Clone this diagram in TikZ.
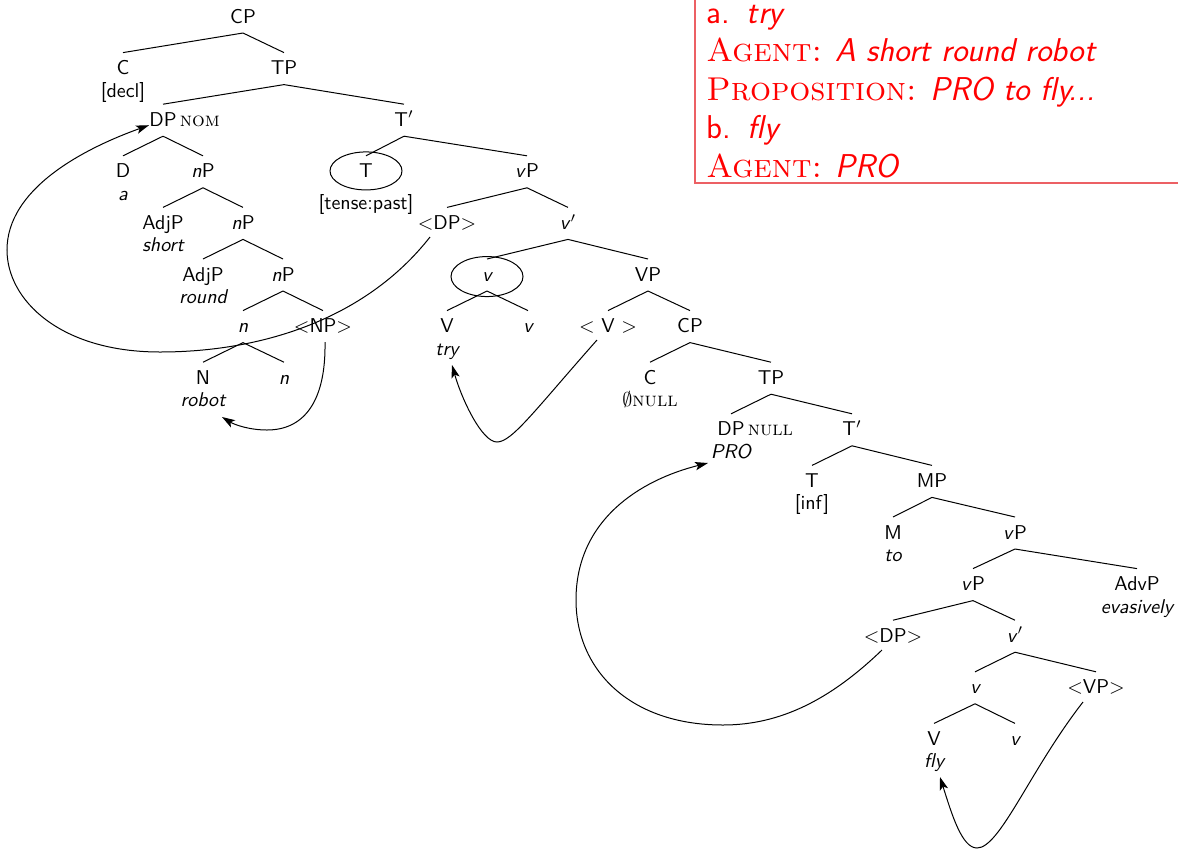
\documentclass[tikz,border=0pt]{standalone}
\usetikzlibrary{calc,arrows.meta,shapes.geometric}
\definecolor{boxred}{RGB}{236,96,100}
\newcommand\tbr[2]{\draw[brl] ($(#1.base)+(0,10)$) -- ($(#2.base)+(0,-22)$);}
\begin{document}
\begin{tikzpicture}[x=0.5pt,y=-0.5pt,
  tn/.style={anchor=base,inner sep=0pt,font=\sffamily\fontsize{10}{12}\selectfont},
  circ/.style={tn,draw,ellipse,minimum width=36pt,inner sep=0pt,line width=0.5pt},
  brl/.style={line width=0.5pt},
  mv/.style={line width=0.5pt,-{Stealth[length=6.5pt,width=4.2pt,inset=1.5pt]}},
  rt/.style={anchor=base west,inner sep=0pt,text=red,font=\sffamily\fontsize{16.5}{19}\selectfont}]
\useasboundingbox (0,0) rectangle (1178,852);

% ---------- tree nodes ----------
\node[tn] (cp0) at (243,23) {CP};
\node[tn] (c1) at (123,74.6) {C};
\node[tn] (decl) at (123,97.1) {[decl]};
\node[tn] (tp1) at (284,74.6) {TP};
\node[tn] (dp2) at (163,126.2) {DP\rlap{\,\rmfamily\scshape nom}};
\node[tn] (tb2) at (404,126.2) {T$'$};
\node[tn] (d3) at (123,177.8) {D};
\node[tn] (a3) at (123,200.3) {\itshape a};
\node[tn] (np3) at (203,177.8) {\textit{n}P};
\node[circ,minimum height=19pt] (t3) at (366,177.8) {T};
\node[tn] (tense) at (366,209) {[tense:past]};
\node[tn] (vp3) at (527,177.8) {\textit{v}P};
\node[tn] (adj4) at (163,229.4) {AdjP};
\node[tn] (short) at (163,251.9) {\itshape short};
\node[tn] (np4) at (243,229.4) {\textit{n}P};
\node[tn] (ldp4) at (447,229.4) {$<$DP$>$};
\node[tn] (vb4) at (568,229.4) {\textit{v}$'$};
\node[tn] (adj5) at (203,281) {AdjP};
\node[tn] (round) at (203,303.5) {\itshape round};
\node[tn] (np5) at (283,281) {\textit{n}P};
\node[circ,minimum height=20pt] (v5) at (487,281) {\itshape v};
\node[tn] (vp5) at (648,281) {VP};
\node[tn] (n6) at (243,332.6) {\itshape n};
\node[tn] (lnp6) at (323,332.6) {$<$NP$>$};
\node[tn] (V6) at (447,332.6) {V};
\node[tn] (try) at (447,355.1) {\itshape try};
\node[tn] (v6) at (528,332.6) {\itshape v};
\node[tn] (lV6) at (608,332.6) {$<$ V $>$};
\node[tn] (cp6) at (690,332.6) {CP};
\node[tn] (N7) at (203,384.2) {N};
\node[tn] (robot) at (203,406.7) {\itshape robot};
\node[tn] (n7) at (284,384.2) {\itshape n};
\node[tn] (c7) at (650,384.2) {C};
\node[tn] (null) at (650,406.7) {$\emptyset${\rmfamily\scshape null}};
\node[tn] (tp7) at (771,384.2) {TP};
\node[tn] (dp8) at (731,435.8) {DP\rlap{\,\rmfamily\scshape null}};
\node[tn] (pro) at (731,458.3) {\itshape PRO};
\node[tn] (tb8) at (852,435.8) {T$'$};
\node[tn] (t9) at (812,487.4) {T};
\node[tn] (inf) at (812,509.9) {[inf]};
\node[tn] (mp9) at (932,487.4) {MP};
\node[tn] (m10) at (893,539) {M};
\node[tn] (to) at (893,561.5) {\itshape to};
\node[tn] (vp10) at (1015,539) {\textit{v}P};
\node[tn] (vp11) at (973,590.6) {\textit{v}P};
\node[tn] (advp11) at (1137,590.6) {AdvP};
\node[tn] (evas) at (1137,613.1) {\itshape evasively};
\node[tn] (ldp12) at (893,642.2) {$<$DP$>$};
\node[tn] (vb12) at (1015,642.2) {\textit{v}$'$};
\node[tn] (v13) at (975,693.8) {\itshape v};
\node[tn] (lvp13) at (1096,693.8) {$<$VP$>$};
\node[tn] (V14) at (934,745.4) {V};
\node[tn] (fly) at (934,767.9) {\itshape fly};
\node[tn] (v14) at (1015,745.4) {\itshape v};

% ---------- branches ----------
\tbr{cp0}{c1} \tbr{cp0}{tp1}
\tbr{tp1}{dp2} \tbr{tp1}{tb2}
\tbr{dp2}{d3} \tbr{dp2}{np3}
\tbr{tb2}{t3} \tbr{tb2}{vp3}
\tbr{np3}{adj4} \tbr{np3}{np4}
\tbr{vp3}{ldp4} \tbr{vp3}{vb4}
\tbr{np4}{adj5} \tbr{np4}{np5}
\tbr{vb4}{v5} \tbr{vb4}{vp5}
\tbr{np5}{n6} \tbr{np5}{lnp6}
\tbr{v5}{V6} \tbr{v5}{v6}
\tbr{vp5}{lV6} \tbr{vp5}{cp6}
\tbr{n6}{N7} \tbr{n6}{n7}
\tbr{cp6}{c7} \tbr{cp6}{tp7}
\tbr{tp7}{dp8} \tbr{tp7}{tb8}
\tbr{tb8}{t9} \tbr{tb8}{mp9}
\tbr{mp9}{m10} \tbr{mp9}{vp10}
\tbr{vp10}{vp11} \tbr{vp10}{advp11}
\tbr{vp11}{ldp12} \tbr{vp11}{vb12}
\tbr{vb12}{v13} \tbr{vb12}{lvp13}
\tbr{v13}{V14} \tbr{v13}{v14}

% ---------- movement arrows ----------
\draw[mv] ($(ldp4.base)+(-17,7.6)$) .. controls (365,320) and (260,352) .. (160,352)
  .. controls (60,352) and (7,300) .. (7,250)
  .. controls (7,190) and (80,150) .. ($(dp2.base)+(-14,-1)$);
\draw[mv] ($(lnp6.base)+(2,9.4)$) .. controls (326,400) and (305,430) .. (267,430)
  .. controls (250,430) and (235,425) .. ($(robot.base)+(19,10.3)$);
\draw[mv] ($(lV6.base)+(-11,7.4)$) .. controls (535,410) and (512,442) .. (497,442)
  .. controls (482,442) and (462,400) .. ($(try.base)+(5,9.9)$);
\draw[mv] ($(ldp12.base)+(-11,7.8)$) .. controls (830,700) and (780,725) .. (723,725)
  .. controls (630,725) and (576,670) .. (576,600)
  .. controls (576,520) and (640,480) .. ($(pro.base)+(-23,4.7)$);
\draw[mv] ($(lvp13.base)+(-13,8.2)$) .. controls (1030,770) and (1000,848) .. (977,848)
  .. controls (962,848) and (952,815) .. ($(fly.base)+(6,9.1)$);

% ---------- red box ----------
\draw[boxred,line width=0.6pt] (695,-5) -- (695,183) -- (1190,183);
\node[rt] (r1) at (706,23.5) {a.\hspace{8.5pt}\textit{try}};
\node[rt] (r2) at (706,61.5) {{\rmfamily\scshape Agent:} \textit{A short round robot}};
\node[rt] (r3) at (706,100) {{\rmfamily\scshape Proposition:} \textit{PRO to fly...}};
\node[rt] (r4) at (706,138.5) {b.\hspace{8.5pt}\textit{fly}};
\node[rt] (r5) at (706,177) {{\rmfamily\scshape Agent:} \textit{PRO}};
\end{tikzpicture}
\end{document}
